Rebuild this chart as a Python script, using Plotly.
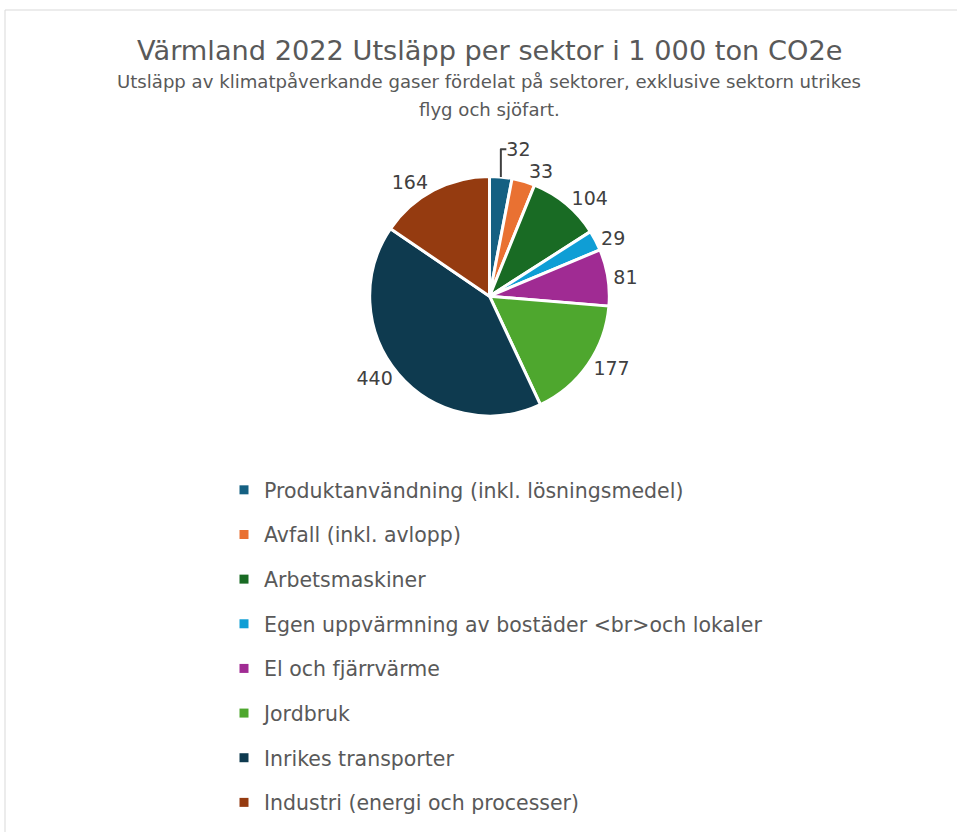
import plotly.graph_objects as go

labels = [
    "Produktanvändning (inkl. lösningsmedel)",
    "Avfall (inkl. avlopp)",
    "Arbetsmaskiner",
    "Egen uppvärmning av bostäder &lt;br&gt;och lokaler",
    "El och fjärrvärme",
    "Jordbruk",
    "Inrikes transporter",
    "Industri (energi och processer)",
]
values = [32, 33, 104, 29, 81, 177, 440, 164]
colors = ["#156082", "#E97132", "#196B24", "#0F9ED5", "#A02B93", "#4EA72E", "#0E3A4F", "#953B10"]

W, H = 957, 832
FONT = "DejaVu Sans"
fig = go.Figure()

fig.add_trace(go.Pie(
    labels=labels, values=values, sort=False, direction="clockwise", rotation=0,
    marker=dict(colors=colors, line=dict(color="white", width=3)),
    texttemplate="%{value}", textposition="outside",
    outsidetextfont=dict(size=19, color="#404040", family=FONT),
    domain=dict(x=[0.386, 0.637], y=[0.500, 0.788]),
    showlegend=False, hoverinfo="label+value",
))

for i, (lab, col) in enumerate(zip(labels, colors)):
    fig.add_trace(go.Scatter(
        x=[None], y=[None], mode="markers", name=lab, legendgroup=f"g{i}",
        marker=dict(symbol="square", size=9, color=col), showlegend=True,
    ))

fig.add_annotation(
    text="Värmland 2022 Utsläpp per sektor i 1 000 ton CO2e",
    x=490 / W, y=1 - 50 / H, xref="paper", yref="paper", showarrow=False,
    xanchor="center", yanchor="middle",
    font=dict(size=27.2, color="#595959", family=FONT),
)
fig.add_annotation(
    text="Utsläpp av klimatpåverkande gaser fördelat på sektorer, exklusive sektorn utrikes",
    x=489 / W, y=1 - 82 / H, xref="paper", yref="paper", showarrow=False,
    xanchor="center", yanchor="middle",
    font=dict(size=18.1, color="#595959", family=FONT),
)
fig.add_annotation(
    text="flyg och sjöfart.",
    x=489 / W, y=1 - 109 / H, xref="paper", yref="paper", showarrow=False,
    xanchor="center", yanchor="middle",
    font=dict(size=18.1, color="#595959", family=FONT),
)

fig.add_shape(type="line", xref="paper", yref="paper", x0=5 / W, x1=1, y0=1 - 10 / H, y1=1 - 10 / H,
              line=dict(color="#d9d9d9", width=1))
fig.add_shape(type="line", xref="paper", yref="paper", x0=5 / W, x1=5 / W, y0=0, y1=1 - 10 / H,
              line=dict(color="#d9d9d9", width=1))

fig.update_layout(
    width=W, height=H, margin=dict(l=0, r=0, t=0, b=0),
    paper_bgcolor="white", plot_bgcolor="white",
    xaxis=dict(visible=False), yaxis=dict(visible=False),
    legend=dict(
        x=224 / W, y=1 - 470 / H, xanchor="left", yanchor="top",
        orientation="v", traceorder="grouped", tracegroupgap=15,
        font=dict(size=20.5, color="#595959", family=FONT),
        itemclick=False, itemdoubleclick=False,
    ),
    font=dict(family=FONT),
)

fig.write_html("out.html", config={"displayModeBar": False},
               post_script="document.body.style.margin='0';document.body.style.overflow='hidden';")
